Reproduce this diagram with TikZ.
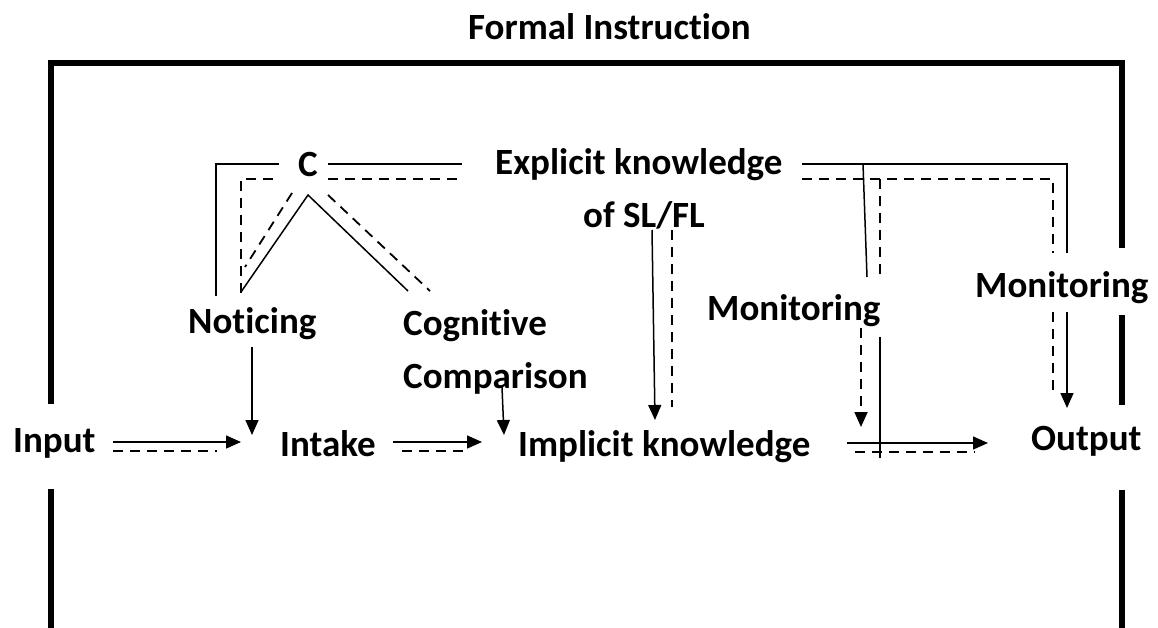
\documentclass[tikz,border=0pt]{standalone}
\usepackage{fontspec}
\setmainfont{Carlito}[Ligatures=CommonOff]
\usetikzlibrary{arrows.meta}
\begin{document}
\begin{tikzpicture}[x=1pt,y=-1pt,
  lbl/.style={anchor=base west, inner sep=0pt, font=\fontsize{37}{42}\selectfont\bfseries},
  frame/.style={line width=6pt},
  link/.style={line width=1.5pt},
  dlink/.style={line width=1.8pt, dash pattern=on 10pt off 7pt},
  tip/.style={-{Triangle[length=15pt,width=13pt]}}]
\useasboundingbox (0,0) rectangle (1158,628);

% labels
\node[lbl] (title)    at (468,40)  {Formal Instruction};
\node[lbl] (input)    at (13,452)  {Input};
\node[lbl] (intake)   at (280,456) {Intake};
\node[lbl] (implicit) at (518,456) {Implicit knowledge};
\node[lbl] (output)   at (1031,450) {Output};
\node[lbl] (noticing) at (188,333) {Noticing};
\node[lbl] (cog)      at (403,335) {Cognitive};
\node[lbl] (comp)     at (403,388) {Comparison};
\node[lbl] (c)        at (298,177) {C};
\node[lbl] (explicit) at (495,175) {Explicit knowledge};
\node[lbl] (slfl)     at (583,228) {of SL/FL};
\node[lbl] (mon1)     at (707,320) {Monitoring};
\node[lbl] (mon2)     at (975,297) {Monitoring};

% frame of formal instruction
\coordinate (fL1) at (51,404);
\coordinate (fTL) at (51,63);
\coordinate (fTR) at (1122,63);
\coordinate (fR1) at (1122,248);
\coordinate (fR2a) at (1122,315);
\coordinate (fR2b) at (1122,405);
\coordinate (fR3a) at (1122,490);
\coordinate (fR3b) at (1122,628);
\coordinate (fL2a) at (51,489);
\coordinate (fL2b) at (51,628);
\draw[frame] (fL1) -- (fTL) -- (fTR) -- (fR1);
\draw[frame] (fR2a) -- (fR2b);
\draw[frame] (fR3a) -- (fR3b);
\draw[frame] (fL2a) -- (fL2b);

% bracket from C down to Noticing
\coordinate (bs0) at (216,296);
\coordinate (bs1) at (216,164);
\coordinate (bs2) at (279,164);
\coordinate (bd0) at (241,293);
\coordinate (bd1) at (241,179);
\coordinate (bd2) at (279,179);
\draw[link]  (bs0) -- (bs1) -- (bs2);
\draw[dlink] (bd0) -- (bd1) -- (bd2);

% C to explicit knowledge
\coordinate (ce1) at (328,164);
\coordinate (ce2) at (462,164);
\coordinate (ce3) at (328,179);
\coordinate (ce4) at (462,179);
\draw[link]  (ce1) -- (ce2);
\draw[dlink] (ce3) -- (ce4);

% the V under C
\coordinate (apex) at (308,195);
\coordinate (vl)   at (241,292);
\coordinate (vr)   at (408,291);
\coordinate (dl1)  at (292,193);
\coordinate (dl2)  at (245,267);
\coordinate (dr1)  at (328,195);
\coordinate (dr2)  at (430,291);
\draw[link]  (vl) -- (apex) -- (vr);
\draw[dlink] (dl1) -- (dl2);
\draw[dlink] (dr1) -- (dr2);

% explicit knowledge to the right
\coordinate (es0) at (802,164);
\coordinate (es1) at (1067,164);
\coordinate (es2) at (1067,253);
\coordinate (ed0) at (802,179);
\coordinate (ed1) at (1053,179);
\coordinate (ed2) at (1053,253);
\draw[link]  (es0) -- (es1) -- (es2);
\draw[dlink] (ed0) -- (ed1) -- (ed2);

% down to the first Monitoring
\coordinate (m1s0) at (863,164);
\coordinate (m1s1) at (867,277);
\coordinate (m1d0) at (880,179);
\coordinate (m1d1) at (880,277);
\draw[link]  (m1s0) -- (m1s1);
\draw[dlink] (m1d0) -- (m1d1);

% below the first Monitoring
\coordinate (m1a0) at (861,328);
\coordinate (m1a1) at (861,427);
\coordinate (m1b0) at (880,337);
\coordinate (m1b1) at (880,458);
\draw[dlink,tip] (m1a0) -- (m1a1);
\draw[link]      (m1b0) -- (m1b1);

% below the second Monitoring
\coordinate (m2d0) at (1053,312);
\coordinate (m2d1) at (1053,390);
\coordinate (m2s0) at (1067,312);
\coordinate (m2s1) at (1067,408);
\draw[dlink]     (m2d0) -- (m2d1);
\draw[link,tip]  (m2s0) -- (m2s1);

% explicit knowledge down to implicit knowledge
\coordinate (ks0) at (652,230);
\coordinate (ks1) at (655,420);
\coordinate (kd0) at (672,230);
\coordinate (kd1) at (672,407);
\draw[link,tip] (ks0) -- (ks1);
\draw[dlink]    (kd0) -- (kd1);

% cognitive comparison and noticing arrows
\coordinate (cc0) at (502,387);
\coordinate (cc1) at (504,435);
\draw[link,tip] (cc0) -- (cc1);
\coordinate (nt0) at (252,347);
\coordinate (nt1) at (252,435);
\draw[link,tip] (nt0) -- (nt1);

% main chain
\coordinate (h1a) at (113,442);
\coordinate (h1b) at (241,442);
\coordinate (h1c) at (113,451);
\coordinate (h1d) at (217,451);
\draw[link,tip] (h1a) -- (h1b);
\draw[dlink]    (h1c) -- (h1d);
\coordinate (h2a) at (393,442);
\coordinate (h2b) at (482,442);
\coordinate (h2c) at (402,451);
\coordinate (h2d) at (468,451);
\draw[link,tip] (h2a) -- (h2b);
\draw[dlink]    (h2c) -- (h2d);
\coordinate (h3a) at (847,443);
\coordinate (h3b) at (988,443);
\coordinate (h3c) at (855,452);
\coordinate (h3d) at (975,452);
\draw[link,tip] (h3a) -- (h3b);
\draw[dlink]    (h3c) -- (h3d);
\end{tikzpicture}
\end{document}
